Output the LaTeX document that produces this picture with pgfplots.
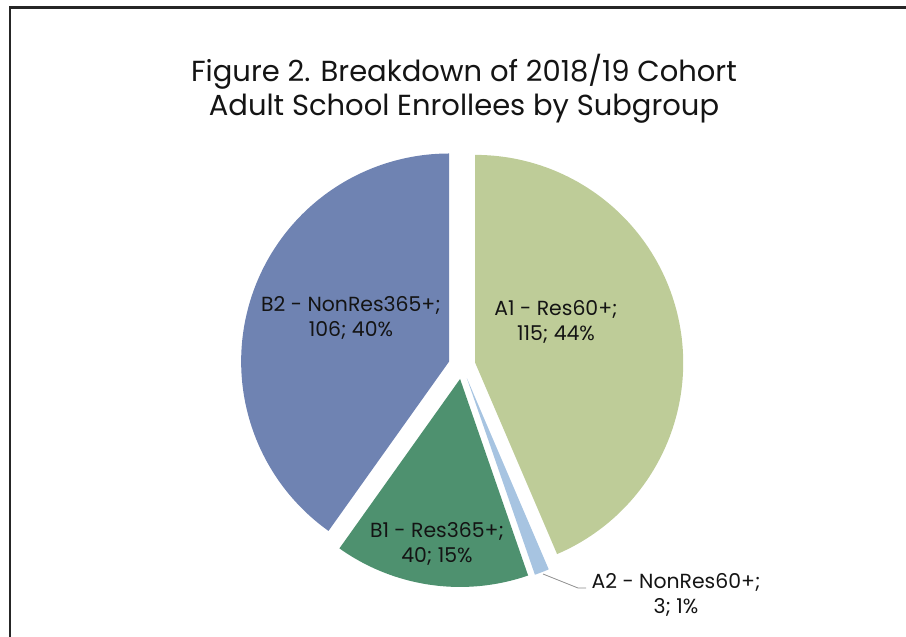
\documentclass[border=0pt]{standalone}
\usepackage{pgfplots}
\pgfplotsset{compat=1.18}
\usepackage{pgfplotstable}
\usepackage{fontspec}
\setmainfont{Poppins}
\definecolor{cA1}{RGB}{190,204,152}
\definecolor{cA2}{RGB}{167,196,225}
\definecolor{cB1}{RGB}{78,145,111}
\definecolor{cB2}{RGB}{111,131,178}
\definecolor{txt}{RGB}{20,20,20}

\pgfplotstableread{
label value
A1 115
A2 3
B1 40
B2 106
}\piedata

\newcommand{\pieslice}[3]{%
 \pgfmathsetmacro\pmid{(#1+#2)/2}%
 \pgfmathsetmacro\pox{462+13.5*sin(\pmid)}%
 \pgfmathsetmacro\poy{-365.6+13.5*cos(\pmid)}%
 \edef\pcmd{\noexpand\addplot[fill=#3, draw=none, domain=#1:#2, samples=120] ({\pox+208*sin(x)},{\poy+208*cos(x)}) -- (axis cs:\pox,\poy) -- cycle;}%
 \pcmd
}

\begin{document}
\begin{tikzpicture}
\pgfplotstablegetelem{0}{value}\of\piedata \let\va\pgfplotsretval
\pgfplotstablegetelem{1}{value}\of\piedata \let\vb\pgfplotsretval
\pgfplotstablegetelem{2}{value}\of\piedata \let\vc\pgfplotsretval
\pgfplotstablegetelem{3}{value}\of\piedata \let\vd\pgfplotsretval
\pgfmathsetmacro\tot{\va+\vb+\vc+\vd}
\pgfmathsetmacro\unit{360/\tot}
\pgfmathsetmacro\aA{\unit*\va}
\pgfmathsetmacro\aB{\unit*(\va+\vb)}
\pgfmathsetmacro\aC{\unit*(\va+\vb+\vc)}
\begin{axis}[
  at={(0,0)}, anchor=south west,
  width=453pt, height=318.5pt, scale only axis,
  xmin=0, xmax=906, ymin=-637, ymax=0,
  hide axis, clip=false,
]
\pieslice{0}{\aA}{cA1}
\pieslice{\aA}{\aB}{cA2}
\pieslice{\aB}{\aC}{cB1}
\pieslice{\aC}{360}{cB2}

\draw[black!85, line width=1.3pt] (axis cs:906,-7.5) -- (axis cs:10,-7.5) -- (axis cs:10,-637);
\node[align=center, text=txt, font=\fontsize{14.5}{17}\selectfont] at (axis cs:464,-89) {Figure 2. Breakdown of 2018/19 Cohort\\Adult School Enrollees by Subgroup};
\node[align=center, text=txt, font=\fontsize{10.2}{12.5}\selectfont] at (axis cs:556,-322) {A1 - Res60+;\\115; 44\%};
\node[align=center, text=txt, font=\fontsize{10.2}{12.5}\selectfont] at (axis cs:351,-318) {B2 - NonRes365+;\\106; 40\%};
\node[align=center, text=txt, font=\fontsize{10.2}{12.5}\selectfont] at (axis cs:437,-544) {B1 - Res365+;\\40; 15\%};
\node[align=center, text=txt, font=\fontsize{10.2}{12.5}\selectfont] at (axis cs:676,-595) {A2 - NonRes60+;\\3; 1\%};
\draw[black!45, line width=0.4pt] (axis cs:543,-574) -- (axis cs:578,-588) -- (axis cs:586,-588);
\coordinate (bl) at (axis cs:0,-637);
\coordinate (tr) at (axis cs:906,0);
\end{axis}
\pgfresetboundingbox
\path[use as bounding box] (bl) rectangle (tr);
\end{tikzpicture}
\end{document}
